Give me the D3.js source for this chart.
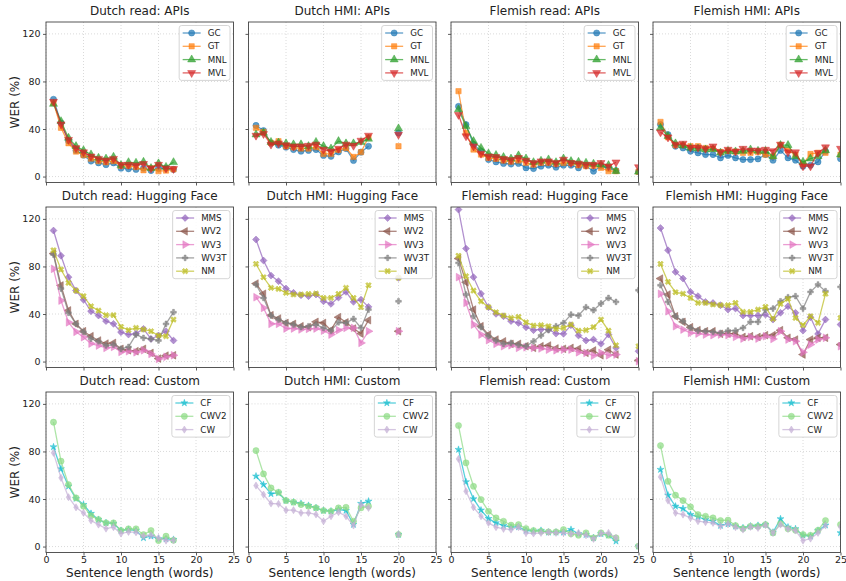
<!DOCTYPE html>
<html>
<head>
<meta charset="utf-8">
<script src="https://cdn.jsdelivr.net/npm/d3@7"></script>
<style>
  body { margin: 0; background: #fff; }
  svg  { display: block; font-family: "DejaVu Sans", sans-serif; }
</style>
</head>
<body>
<svg id="chart" width="846" height="581"></svg>
<script>
// ── Sentence lengths (x) per dataset; null in a series = no point at that length ──
const lenDutchRead = [1,2,3,4,5,6,7,8,9,10,11,12,13,14,15,16,17];
const lenDutchHmi  = [1,2,3,4,5,6,7,8,9,10,11,12,13,14,15,16,17,18,19,20];
const lenFlemRead  = [1,2,3,4,5,6,7,8,9,10,11,12,13,14,15,16,17,18,19,20,21,22,23,24,25];
const lenFlemHmi   = [1,2,3,4,5,6,7,8,9,10,11,12,13,14,15,16,17,18,19,20,21,22,23,24,25];

const xTicks = [0, 5, 10, 15, 20, 25];
const yTicks = [0, 40, 80, 120];

// ── APIs ──
const drGC  = [65,45,30,22,18,13,11.5,10,11.5,7,6.5,6,7,5,7,7,6];
const drGT  = [62,41,28,21,18,15,13,12,13,9,9,8,5.3,7,4.5,5,6];
const drMNL = [61,46.5,32.5,25.5,22,18.5,15.7,15,16.5,9.5,12,11.5,12.3,7,11,8,12];
const drMVL = [63,44,31,24,20.5,17,15,13.7,15,10,10,9.5,10.7,7,10,7,6.5];

const dhGC  = [43,38.7,28,26.4,24.7,22.7,21.3,22,22.7,17.7,17,20.7,23.5,13.5,20.5,25.5,null,null,null,36.7];
const dhGT  = [41,37.5,28.3,29.7,25.5,24.5,23.5,23.5,24.7,19,19,22.5,24,16.5,20.5,33,null,null,null,25.5];
const dhMNL = [35.3,36.7,29,28.5,27.8,27,27,25.5,29,25.5,23.5,29.7,27.8,27.8,29,31.7,null,null,null,40.4];
const dhMVL = [34.5,35.9,27,28,26.5,25.5,25.5,26,27,22.7,21.3,23.5,27,26,30.3,34.5,null,null,null,35.3];

const frGC  = [59,43.7,27,21.3,14.3,12.3,11,10.5,11,7.3,6.7,8.7,9.5,7.8,9.5,9.5,7.3,9,4.5,8.7,7,5,null,null,4];
const frGT  = [71.8,36.7,22.7,18.5,15.7,14.9,13.5,12.5,13.5,11.5,10,11.5,11.5,10.7,11.5,11.5,9.5,8.7,9,7.3,4.5,4.5,null,null,4];
const frMNL = [56.4,42.3,29.7,24,19.3,18,16.3,15,17.7,15.1,12,13.2,14.3,12,15.1,12.9,12.3,11.5,10.7,10,9.5,4.5,null,null,4];
const frMVL = [52,34,25.5,19.3,17,16.5,14.9,14,15.7,13.5,11.5,12.9,12.9,11.5,14.3,11.5,11,10,10,11.5,8.7,12,null,null,8];

const fhGC  = [43.7,35.3,25.5,24,21.3,19.9,18.5,18.5,15.7,17.7,15.7,14.3,14.3,14.8,18.5,13.7,22,15.7,13.7,8.7,9.5,12.3,21.3,null,15];
const fhGT  = [46,33,26.4,26.4,25.5,25.5,24,23.5,20.7,21.5,21,20,20,20.5,18.5,17,26.5,22,18.5,10.5,19,20,20,null,18.5];
const fhMNL = [41,34,27.8,26,24,23.5,22.7,23,20,21.5,21,21.5,22.7,21.5,21.5,17,26.4,26.4,17,12.3,15,17,22,null,18.5];
const fhMVL = [37.3,33,27,27.8,24.5,24.5,23.5,25.5,20.5,22.7,21.3,23.5,22,22,22.7,21.5,27,20.5,20.5,8.7,8.7,20,24.7,null,23.5];

// ── Hugging Face ──
const drMMS  = [110.2,89,71,59.7,52,42.3,38.7,34,31.7,24.7,22.7,23.5,27.5,19,21.9,25.5,17.7];
const drWV2  = [90.8,64,43,31.7,25.5,21.3,17.7,15.1,15.7,10.7,9.5,8.7,10.7,7.3,2.5,5,5.3];
const drWV3  = [78,51.3,33,25,20.5,15.1,13.5,11.5,12.3,8.1,8.7,7.8,9.5,6.4,2.2,4,5.3];
const drWV3T = [90,61.4,41,31.7,25,19.3,17,13.5,14.3,10.7,12.3,22.7,19.9,19,17.7,31.7,41.5];
const drNM   = [93.6,77.4,66.2,59.7,55,46.5,42.9,39,39,29.2,26.4,28.3,27,25.5,21.9,21.3,35.3];

const dhMMS  = [102.6,85,72.3,67.6,61.4,57.8,55.8,55,56.4,50.7,48.5,53.8,58.6,50.2,52.1,46,null,null,null,70.4];
const dhWV2  = [65.6,57,39,36.2,32.5,31.7,29.7,28.9,33.4,32.5,26.4,37.3,33,27.8,23.5,34.8,null,null,null,25.5];
const dhWV3  = [54.1,45.1,31.7,31.7,27.8,27.8,27,27.5,27.8,26,22.7,26.4,28.3,28.3,15.7,25.5,null,null,null,25.5];
const dhWV3T = [64.8,53.5,38.7,35.3,32.5,31.1,28.9,29.7,31.1,28.3,26,33,32.5,35.9,28.3,43.7,null,null,null,50.7];
const dhNM   = [82.1,70.9,62,61.1,57.8,56.4,56.4,56.9,57.2,53.5,53.5,56.9,62,53.5,45.7,64.2,null,null,null,70.4];

const frMMS  = [127.8,95,71,57,45.7,40.1,38.1,34,32.5,28.9,26.4,27,27,23.5,23.3,30.6,21.9,17.7,18.5,14.9,22.7,11.5,null,null,8.7];
const frWV2  = [86.6,66.7,43.7,29.7,22.7,18.5,17,14.9,14.9,12.9,11.5,12.9,13.5,11,10.7,11.5,10.7,7.3,9.3,5.3,10,5.9,null,null,1];
const frWV3  = [71,49.3,31.1,22.7,18,14.9,12.9,13.7,11.5,12,11.5,11,10,9.5,10,10,7.8,7.3,5,7.3,5.3,5.9,null,null,0.3];
const frWV3T = [83,56.4,38.1,28.9,21.3,17.7,14.9,15.7,14,12.9,17,21.9,26.4,29.7,32.5,39.5,38.7,45.7,43.2,48.8,53.5,50.2,null,null,60];
const frNM   = [89,71.8,59.7,50.7,45.7,41.5,38.7,36.7,37.6,33,30.3,30.6,29.7,27.5,28.3,31.1,26,26.4,28.9,35.3,26,13.7,null,null,12.9];

const fhMMS  = [112.3,93.6,75.4,69.8,58.6,55,50.2,49.3,47.4,43.7,44.6,38.7,38.7,38.7,39.5,35.3,41,46.5,41,26,37.3,23.3,35.3,null,31.1];
const fhWV2  = [69.8,56.4,38.1,33.4,28.9,26.4,25.5,25.5,23.3,23.5,23.5,20.7,21.3,20.7,22.2,22.2,26.4,20,18.5,5.9,18.5,20,20,null,14.3];
const fhWV3  = [57,42.3,29.7,26.9,24.1,23.5,22.7,22.2,22.7,22.2,20.7,19.3,20.7,19.3,21.3,19,25.5,18.5,17.1,7.8,14.3,18.5,20,null,12.9];
const fhWV3T = [64.2,50.2,38.1,33.9,28.3,26,25.5,25,24.1,26,26,28.3,33.4,33.4,43.7,44.6,50.7,54.1,55,44.6,58.6,64.8,59.2,null,62.8];
const fhNM   = [82.1,67,58.3,57,53.5,49.3,49.3,48,47.4,47.4,49.3,41.8,41.8,43.7,46,35.9,48.5,52.7,36.7,30.6,38.1,32.5,57,null,36.7];

// ── Custom ──
const drCF   = [83.8,65.3,50.7,40.4,35.3,27.8,22.7,19.9,19.3,13.5,14.3,13.5,7.3,8.7,6.4,6.4,5.9];
const drCWV2 = [104.6,71.8,52.1,40.9,33.9,26,22.7,19.9,19.9,13.5,14.9,14.9,10,13.5,5,8.7,5.3];
const drCW   = [78.8,57.8,41.5,33,28.3,21.9,18.5,15.1,16.3,10.9,12.3,12,8.7,9.5,7.3,5,5.3];

const dhCF   = [59.2,52.1,44.3,45.1,38.7,37.3,36.2,34.5,32.5,30.3,29.7,31.1,30.3,18.5,36.2,38.1,null,null,null,10.1];
const dhCWV2 = [80.7,61.1,49.3,45.7,38.7,37.3,35.3,33.9,32.5,30.3,29.7,32.5,33,21.3,32.5,33.9,null,null,null,10.1];
const dhCW   = [51.3,43.7,36.2,35.9,30.6,30.6,28.3,28.3,27,21.3,25.5,28.9,25.5,17.7,35.3,32.5,null,null,null,10.1];

const frCF   = [81.6,54.4,40.1,30.6,23.5,19.9,17.7,16.3,16.5,13.5,12.9,13.5,12,12,12,14.3,10.7,10,7.3,10.7,9.5,4.5,null,null,0.3];
const frCWV2 = [101.8,70.4,50.7,39.5,29.7,24.1,21.3,18,18.5,15.1,13.5,12.9,12.3,12.3,14.3,10.7,9.5,11.5,7.3,11.5,9.5,7.3,null,null,0.3];
const frCW   = [73.7,46.5,33,25.5,19.9,16.3,14.9,14.3,16.3,11.5,11,11.5,12,11.5,11.5,10.7,11.5,9.5,6.4,11,11.5,7.3,null,null,0.3];

const fhCF   = [64.8,43.2,33.9,32,26.9,25,22.7,21.3,17.7,19,17.1,15.7,17.1,17.7,18.5,12,23.3,16.3,14.9,9.5,8.7,13.5,18,null,11.5];
const fhCWV2 = [84.9,54.9,43.2,38.7,33.4,26.9,25.5,24.1,21.9,22.2,17.7,15.1,17.1,17.1,18.5,11.5,19.3,14.9,13.7,10.1,9.5,13.7,21.9,null,18.5];
const fhCW   = [58.6,38.7,28.3,26.9,24.1,21.3,20.5,19.9,17.1,19,16.3,14.3,16.5,15.7,18,11.5,18.5,14.9,13.5,5,6.7,11.5,17.7,null,16.5];

// ── Panels (row-major) ──
const panels = [
  { title: 'Dutch read: APIs',    x: lenDutchRead, series: [['GC', drGC], ['GT', drGT], ['MNL', drMNL], ['MVL', drMVL]] },
  { title: 'Dutch HMI: APIs',     x: lenDutchHmi,  series: [['GC', dhGC], ['GT', dhGT], ['MNL', dhMNL], ['MVL', dhMVL]] },
  { title: 'Flemish read: APIs',  x: lenFlemRead,  series: [['GC', frGC], ['GT', frGT], ['MNL', frMNL], ['MVL', frMVL]] },
  { title: 'Flemish HMI: APIs',   x: lenFlemHmi,   series: [['GC', fhGC], ['GT', fhGT], ['MNL', fhMNL], ['MVL', fhMVL]] },
  { title: 'Dutch read: Hugging Face',   x: lenDutchRead, series: [['MMS', drMMS], ['WV2', drWV2], ['WV3', drWV3], ['WV3T', drWV3T], ['NM', drNM]] },
  { title: 'Dutch HMI: Hugging Face',    x: lenDutchHmi,  series: [['MMS', dhMMS], ['WV2', dhWV2], ['WV3', dhWV3], ['WV3T', dhWV3T], ['NM', dhNM]] },
  { title: 'Flemish read: Hugging Face', x: lenFlemRead,  series: [['MMS', frMMS], ['WV2', frWV2], ['WV3', frWV3], ['WV3T', frWV3T], ['NM', frNM]] },
  { title: 'Flemish HMI: Hugging Face',  x: lenFlemHmi,   series: [['MMS', fhMMS], ['WV2', fhWV2], ['WV3', fhWV3], ['WV3T', fhWV3T], ['NM', fhNM]] },
  { title: 'Dutch read: Custom',   x: lenDutchRead, series: [['CF', drCF], ['CWV2', drCWV2], ['CW', drCW]] },
  { title: 'Dutch HMI: Custom',    x: lenDutchHmi,  series: [['CF', dhCF], ['CWV2', dhCWV2], ['CW', dhCW]] },
  { title: 'Flemish read: Custom', x: lenFlemRead,  series: [['CF', frCF], ['CWV2', frCWV2], ['CW', frCW]] },
  { title: 'Flemish HMI: Custom',  x: lenFlemHmi,   series: [['CF', fhCF], ['CWV2', fhCWV2], ['CW', fhCW]] },
];

// ── Styles ──
const STYLE = {
  GC:   { color: '#1f77b4', marker: 'circle' },
  GT:   { color: '#ff7f0e', marker: 'square' },
  MNL:  { color: '#2ca02c', marker: 'triUp' },
  MVL:  { color: '#d62728', marker: 'triDown' },
  MMS:  { color: '#9467bd', marker: 'diamond' },
  WV2:  { color: '#8c564b', marker: 'triLeft' },
  WV3:  { color: '#e377c2', marker: 'triRight' },
  WV3T: { color: '#7f7f7f', marker: 'plus' },
  NM:   { color: '#bcbd22', marker: 'xmark' },
  CF:   { color: '#17becf', marker: 'star' },
  CWV2: { color: '#8fdb86', marker: 'circle' },
  CW:   { color: '#c5b0d5', marker: 'thinDiamond' },
};
const ALPHA = 0.72;

function marker(kind) {
  const sym = (t, s) => d3.symbol(t, s)();
  switch (kind) {
    case 'circle':      return { d: sym(d3.symbolCircle, 30),   rot: 0 };
    case 'square':      return { d: sym(d3.symbolSquare, 28),   rot: 0 };
    case 'triUp':       return { d: sym(d3.symbolTriangle, 28), rot: 0 };
    case 'triDown':     return { d: sym(d3.symbolTriangle, 28), rot: 180 };
    case 'triLeft':     return { d: sym(d3.symbolTriangle, 26), rot: -90 };
    case 'triRight':    return { d: sym(d3.symbolTriangle, 26), rot: 90 };
    case 'diamond':     return { d: sym(d3.symbolSquare, 24),   rot: 45 };
    case 'plus':        return { d: sym(d3.symbolCross, 18),    rot: 0 };
    case 'xmark':       return { d: sym(d3.symbolCross, 20),    rot: 45 };
    case 'star':        return { d: sym(d3.symbolStar, 15),     rot: 0 };
    case 'thinDiamond': return { d: 'M0,-3.6L2.3,0L0,3.6L-2.3,0Z', rot: 0 };
  }
}

// ── Layout ──
const colLeft = [46, 248.5, 451, 653];
const rowTop  = [22, 207, 392];
const PW = 187.5, PH = 160.5;

const svg = d3.select('#chart');
const x = d3.scaleLinear().domain([0, 25]).range([0, PW]);
const y = d3.scaleLinear().domain([-5, 130]).range([PH, 0]);

panels.forEach((p, i) => {
  const row = Math.floor(i / 4), col = i % 4;
  const g = svg.append('g').attr('transform', `translate(${colLeft[col]},${rowTop[row]})`);

  g.append('clipPath').attr('id', `clip${i}`)
    .append('rect').attr('width', PW).attr('height', PH);

  // grid
  g.append('g').selectAll('line').data(xTicks).join('line')
    .attr('x1', d => x(d)).attr('x2', d => x(d)).attr('y1', 0).attr('y2', PH)
    .attr('stroke', '#d0d0d0').attr('stroke-width', 0.8).attr('stroke-dasharray', '1,2');
  g.append('g').selectAll('line').data(yTicks).join('line')
    .attr('y1', d => y(d)).attr('y2', d => y(d)).attr('x1', 0).attr('x2', PW)
    .attr('stroke', '#d0d0d0').attr('stroke-width', 0.8).attr('stroke-dasharray', '1,2');

  // axes
  const ax = g.append('g').attr('transform', `translate(0,${PH})`)
    .call(d3.axisBottom(x).tickValues(xTicks).tickSize(3).tickPadding(1)
      .tickFormat(row === 2 ? d3.format('d') : () => ''));
  const ay = g.append('g')
    .call(d3.axisLeft(y).tickValues(yTicks).tickSize(3).tickPadding(2.5)
      .tickFormat(col === 0 ? d3.format('d') : () => ''));
  [ax, ay].forEach(a => {
    a.select('.domain').remove();
    a.selectAll('line').attr('stroke', '#333').attr('stroke-width', 0.8);
    a.selectAll('text').attr('fill', '#222').style('font-size', '9.5px')
      .style('font-family', '"DejaVu Sans", sans-serif');
  });

  // series
  const plot = g.append('g').attr('clip-path', `url(#clip${i})`);
  p.series.forEach(([name, vals]) => {
    const st = STYLE[name];
    const pts = p.x.map((xv, k) => ({ x: xv, v: vals[k] }));
    const line = d3.line().defined(d => d.v != null).x(d => x(d.x)).y(d => y(d.v));
    plot.append('path').attr('d', line(pts))
      .attr('fill', 'none').attr('stroke', st.color).attr('stroke-width', 1.3)
      .attr('stroke-opacity', ALPHA);
    const m = marker(st.marker);
    plot.append('g').selectAll('path').data(pts.filter(d => d.v != null)).join('path')
      .attr('d', m.d)
      .attr('transform', d => `translate(${x(d.x)},${y(d.v)}) rotate(${m.rot})`)
      .attr('fill', st.color).attr('fill-opacity', ALPHA)
      .attr('stroke', st.color).attr('stroke-opacity', ALPHA).attr('stroke-width', 0.6);
  });

  // frame
  g.append('rect').attr('width', PW).attr('height', PH)
    .attr('fill', 'none').attr('stroke', '#444').attr('stroke-width', 0.9);

  // title
  g.append('text').attr('x', PW / 2).attr('y', -7).attr('text-anchor', 'middle')
    .style('font-size', '12px').attr('fill', '#222').text(p.title);

  // legend
  const lg = g.append('g');
  const box = lg.append('rect').attr('fill', '#fff').attr('fill-opacity', 0.85)
    .attr('stroke', '#cccccc').attr('stroke-width', 0.8).attr('rx', 2.5);
  const rowH = 13.3;
  let maxW = 0;
  p.series.forEach(([name], k) => {
    const st = STYLE[name];
    const cy = 7.5 + k * rowH;
    lg.append('line').attr('x1', 3.5).attr('x2', 21.5).attr('y1', cy).attr('y2', cy)
      .attr('stroke', st.color).attr('stroke-width', 1.3).attr('stroke-opacity', ALPHA);
    const m = marker(st.marker);
    lg.append('path').attr('d', m.d).attr('transform', `translate(12.5,${cy}) rotate(${m.rot})`)
      .attr('fill', st.color).attr('fill-opacity', ALPHA)
      .attr('stroke', st.color).attr('stroke-opacity', ALPHA).attr('stroke-width', 0.6);
    const t = lg.append('text').attr('x', 28.5).attr('y', cy).attr('dy', '0.35em')
      .style('font-size', '8.7px').attr('fill', '#222').text(name);
    maxW = Math.max(maxW, t.node().getComputedTextLength());
  });
  const bw = 28.5 + maxW + 3.5, bh = 15 + (p.series.length - 1) * rowH;
  box.attr('width', bw).attr('height', bh);
  lg.attr('transform', `translate(${PW - 3.5 - bw},3.5)`);

  // axis labels
  if (col === 0) {
    svg.append('text')
      .attr('transform', `translate(15,${rowTop[row] + PH / 2}) rotate(-90)`)
      .attr('text-anchor', 'middle').attr('dy', '0.35em')
      .style('font-size', '12px').attr('fill', '#222').text('WER (%)');
  }
  if (row === 2) {
    svg.append('text').attr('x', colLeft[col] + PW / 2).attr('y', 577)
      .attr('text-anchor', 'middle')
      .style('font-size', '12px').attr('fill', '#222').text('Sentence length (words)');
  }
});
</script>
</body>
</html>
